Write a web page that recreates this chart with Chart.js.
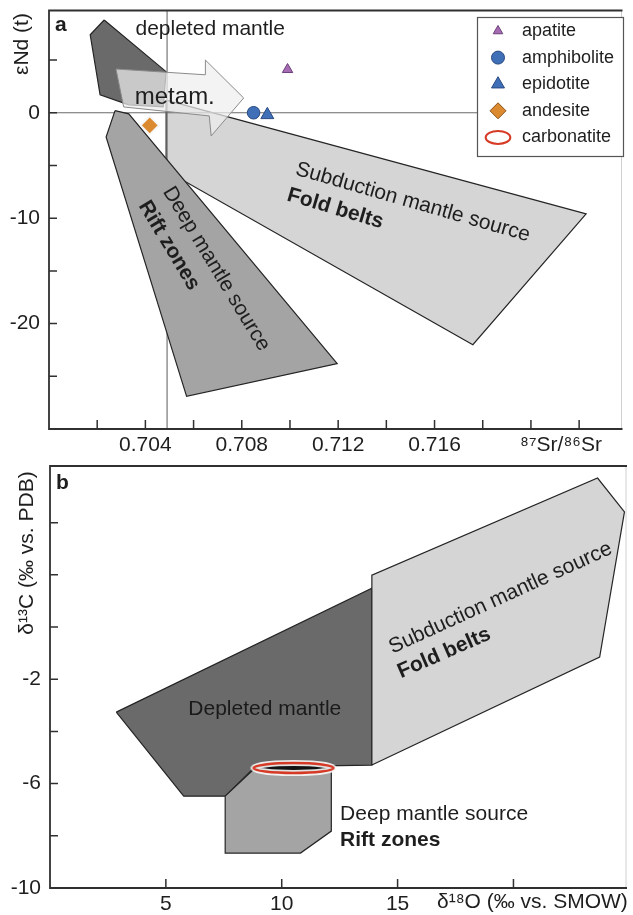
<!DOCTYPE html>
<html>
<head>
<meta charset="utf-8">
<script src="https://cdn.jsdelivr.net/npm/chart.js@4.4.0/dist/chart.umd.min.js"></script>
<style>
html, body { margin: 0; padding: 0; background: #fff; }
#wrap { position: relative; width: 633px; height: 915px; overflow: hidden; }
#chartA { position: absolute; left: 0; top: 0; }
#chartB { position: absolute; left: 0; top: 458px; }
</style>
</head>
<body>
<div id="wrap">
  <canvas id="chartA" width="633" height="458"></canvas>
  <canvas id="chartB" width="633" height="457"></canvas>
</div>
<script>
const FONT = '"Liberation Sans", Arial, Helvetica, sans-serif';

// ---------- panel a : eNd(t) vs 87Sr/86Sr ----------
const aXTicks = [0.702, 0.704, 0.706, 0.708, 0.710, 0.712, 0.714, 0.716, 0.718, 0.720, 0.722];
const aXLabels = [0.704, 0.708, 0.712, 0.716];
const aYTicks = [5, 0, -5, -10, -15, -20, -25];
const aYLabels = [0, -10, -20];

// field outlines (x = 87Sr/86Sr, y = eNd)
const aDepletedX = [0.70229, 0.70171, 0.70212, 0.70331, 0.70474, 0.70486];
const aDepletedY = [8.8, 7.4, 1.7, 0.75, 0.55, 3.9];
const aDeepX = [0.70274, 0.70331, 0.71196, 0.70571, 0.70237];
const aDeepY = [0.2, -0.1, -23.8, -26.9, -2.3];
const aSubductionX = [0.70486, 0.72229, 0.71759, 0.70486];
const aSubductionY = [1.2, -9.6, -22.0, -5.5];
const aArrowX = [0.70278, 0.70649, 0.70649, 0.70808, 0.70673, 0.70665, 0.70310];
const aArrowY = [4.15, 3.6, 5.0, 1.4, -2.2, -0.3, 0.55];

// reference lines (bulk earth)
const bulkSr = 0.7049;
const bulkNd = 0;

// samples
const apatiteX = [0.7099];   const apatiteY = [4.1];
const amphiboliteX = [0.70849]; const amphiboliteY = [0];
const epidotiteX = [0.70906];   const epidotiteY = [-0.2];
const andesiteX = [0.70418];    const andesiteY = [-1.2];

const legendNames = ['apatite', 'amphibolite', 'epidotite', 'andesite', 'carbonatite'];

// ---------- panel b : d13C vs d18O ----------
const bXTicks = [5, 10, 15, 20];
const bXLabels = [5, 10, 15];
const bYTicks = [4, 2, 0, -2, -4, -6, -8];
const bYLabels = [-2, -6, -10];

const bDepletedX = [2.86, 13.89, 13.89, 8.85, 7.56, 5.77];
const bDepletedY = [-3.26, 1.49, -5.29, -5.36, -6.48, -6.48];
const bSubductionX = [13.89, 13.89, 23.63, 24.79, 23.72];
const bSubductionY = [-5.29, 1.99, 5.71, 4.41, -1.15];
const bDeepX = [7.56, 8.85, 12.14, 12.14, 10.81, 7.56];
const bDeepY = [-6.48, -5.40, -5.40, -7.82, -8.66, -8.66];
const carbonatiteX = [10.51];
const carbonatiteY = [-5.40];

const COL = {
    dark: '#6a6a6a',
    mid: '#a4a4a4',
    light: '#d5d5d5',
    edge: '#252525',
    purple: '#a56bb3',
    blue: '#3f6fb6',
    orange: '#dc8a30',
    red: '#d63a25'
};

function pts(xs, ys) {
    return xs.map((x, i) => ({ x: x, y: ys[i] }));
}
function closed(xs, ys) {
    const p = pts(xs, ys);
    p.push(p[0]);
    return p;
}

function field(data, fill, order, extra) {
    return Object.assign({
        type: 'line',
        data: data,
        backgroundColor: fill,
        borderColor: COL.edge,
        borderWidth: 1.2,
        pointRadius: 0,
        tension: 0,
        fill: 'shape',
        order: order
    }, extra || {});
}

// carbonatite mark as a point style image
function ellipseMark(w, h) {
    const c = document.createElement('canvas');
    c.width = w + 10;
    c.height = h + 10;
    const g = c.getContext('2d');
    g.beginPath();
    g.ellipse(c.width / 2, c.height / 2, w / 2, h / 2, 0, 0, Math.PI * 2);
    g.fillStyle = '#111';
    g.fill();
    g.lineWidth = 6;
    g.strokeStyle = 'rgba(250,250,250,0.9)';
    g.stroke();
    g.lineWidth = 2.4;
    g.strokeStyle = COL.red;
    g.stroke();
    return c;
}

function note(ctx, t, px, py, o) {
    ctx.save();
    ctx.translate(px, py);
    ctx.rotate((o.angle || 0) * Math.PI / 180);
    ctx.font = (o.bold ? 'bold ' : '') + (o.size || 21) + 'px ' + FONT;
    ctx.fillStyle = o.color || '#1e1e1e';
    ctx.textAlign = o.align || 'center';
    ctx.textBaseline = 'middle';
    ctx.fillText(t, 0, 0);
    ctx.restore();
}

function legendMark(ctx, kind, x, y, r, fill, stroke) {
    ctx.save();
    ctx.fillStyle = fill;
    ctx.strokeStyle = stroke;
    ctx.lineWidth = 1;
    ctx.beginPath();
    if (kind === 'triangle') {
        ctx.moveTo(x, y - r);
        ctx.lineTo(x + r * 0.866, y + r * 0.5);
        ctx.lineTo(x - r * 0.866, y + r * 0.5);
        ctx.closePath();
    } else if (kind === 'circle') {
        ctx.arc(x, y, r, 0, Math.PI * 2);
    } else if (kind === 'diamond') {
        ctx.moveTo(x, y - r);
        ctx.lineTo(x + r, y);
        ctx.lineTo(x, y + r);
        ctx.lineTo(x - r, y);
        ctx.closePath();
    } else if (kind === 'ellipse') {
        ctx.ellipse(x, y, r * 1.9, r, 0, 0, Math.PI * 2);
        ctx.lineWidth = 2;
        ctx.stroke();
        ctx.restore();
        return;
    }
    ctx.fill();
    ctx.stroke();
    ctx.restore();
}

// frame, inward ticks, labels and annotations
function decor(spec) {
    return {
        id: 'decor' + spec.name,
        afterDraw(chart) {
            const ctx = chart.ctx;
            const a = chart.chartArea;
            const xs = chart.scales.x;
            const ys = chart.scales.y;
            ctx.save();

            // faint right border
            ctx.strokeStyle = '#d0d0d0';
            ctx.lineWidth = 1;
            ctx.beginPath();
            ctx.moveTo(a.right - 1, a.top);
            ctx.lineTo(a.right - 1, a.bottom);
            ctx.stroke();

            ctx.strokeStyle = '#303030';
            ctx.lineWidth = 1.8;
            ctx.beginPath();
            ctx.moveTo(a.right, a.top);
            ctx.lineTo(a.left, a.top);
            ctx.lineTo(a.left, a.bottom);
            ctx.lineTo(a.right, a.bottom);
            ctx.stroke();

            ctx.lineWidth = 1.5;
            ctx.beginPath();
            spec.xTicks.forEach(v => {
                const p = xs.getPixelForValue(v);
                ctx.moveTo(p, a.bottom);
                ctx.lineTo(p, a.bottom - 9);
            });
            spec.yTicks.forEach(v => {
                const p = ys.getPixelForValue(v);
                ctx.moveTo(a.left, p);
                ctx.lineTo(a.left + 8, p);
            });
            ctx.stroke();

            spec.xLabels.forEach(v => {
                note(ctx, spec.xFormat(v), xs.getPixelForValue(v), a.bottom + 16, {});
            });
            spec.yLabels.forEach(v => {
                note(ctx, String(v), a.left - 9, ys.getPixelForValue(v), { align: 'right' });
            });

            spec.notes.forEach(n => {
                const px = n.px !== undefined ? n.px : xs.getPixelForValue(n.x);
                const py = n.py !== undefined ? n.py : ys.getPixelForValue(n.y);
                note(ctx, n.text, px, py, n);
            });

            if (spec.legend) spec.legend(ctx);
            ctx.restore();
        }
    };
}

function drawLegendA(ctx) {
    const kinds = [
        ['triangle', 5.5, COL.purple, '#6b3f78'],
        ['circle', 6.5, COL.blue, '#2a4b82'],
        ['triangle', 7.5, COL.blue, '#2a4b82'],
        ['diamond', 8, COL.orange, '#8a5318'],
        ['ellipse', 6.5, 'rgba(0,0,0,0)', COL.red]
    ];
    ctx.save();
    ctx.fillStyle = '#fff';
    ctx.fillRect(477, 17, 146, 139);
    ctx.strokeStyle = '#555';
    ctx.lineWidth = 1.2;
    ctx.strokeRect(477.5, 17.5, 146, 139);
    legendNames.forEach((name, i) => {
        const y = 31 + i * 26.6;
        const k = kinds[i];
        legendMark(ctx, k[0], 498, y, k[1], k[2], k[3]);
        note(ctx, name, 522, y, { align: 'left', size: 18 });
    });
    ctx.restore();
}

const chartA = new Chart(document.getElementById('chartA'), {
    type: 'scatter',
    data: {
        datasets: [
            { label: 'apatite', data: pts(apatiteX, apatiteY), pointStyle: 'triangle', pointRadius: 6,
              backgroundColor: COL.purple, borderColor: '#6b3f78', borderWidth: 1, order: 0 },
            { label: 'amphibolite', data: pts(amphiboliteX, amphiboliteY), pointStyle: 'circle', pointRadius: 6.3,
              backgroundColor: COL.blue, borderColor: '#2a4b82', borderWidth: 1, order: 0 },
            { label: 'epidotite', data: pts(epidotiteX, epidotiteY), pointStyle: 'triangle', pointRadius: 7.5,
              backgroundColor: COL.blue, borderColor: '#2a4b82', borderWidth: 1, order: 0 },
            { label: 'andesite', data: pts(andesiteX, andesiteY), pointStyle: 'rectRot', pointRadius: 9,
              backgroundColor: COL.orange, borderColor: '#f4f4f4', borderWidth: 1.5, order: 0 },
            field(closed(aArrowX, aArrowY), 'rgba(238,238,238,0.72)', 1, { borderColor: '#8a8a8a', borderWidth: 1 }),
            field(closed(aDeepX, aDeepY), COL.mid, 2),
            field([{ x: bulkSr, y: -30 }, { x: bulkSr, y: 9.7 }], 'rgba(0,0,0,0)', 3,
                  { fill: false, borderColor: '#6a6a6a', borderWidth: 1.1 }),
            field([{ x: 0.700, y: bulkNd }, { x: 0.7238, y: bulkNd }], 'rgba(0,0,0,0)', 3,
                  { fill: false, borderColor: '#6a6a6a', borderWidth: 1.1 }),
            field(closed(aDepletedX, aDepletedY), COL.dark, 4),
            field(closed(aSubductionX, aSubductionY), COL.light, 5)
        ]
    },
    options: {
        responsive: false,
        animation: false,
        devicePixelRatio: 1,
        events: [],
        layout: { padding: { left: 49, top: 8, right: 0, bottom: 29 } },
        scales: {
            x: { type: 'linear', min: 0.700, max: 0.7238, display: false },
            y: { type: 'linear', min: -30, max: 9.7, display: false }
        },
        plugins: { legend: { display: false }, tooltip: { enabled: false } }
    },
    plugins: [decor({
        name: 'A',
        xTicks: aXTicks, xLabels: aXLabels, yTicks: aYTicks, yLabels: aYLabels,
        xFormat: v => v.toFixed(3),
        legend: drawLegendA,
        notes: [
            { text: 'a', px: 55, py: 25, bold: true, align: 'left' },
            { text: 'εNd (t)', px: 22, py: 44, angle: -90 },
            { text: '⁸⁷Sr/⁸⁶Sr', px: 561, py: 445 },
            { text: 'depleted mantle', x: 0.70669, y: 7.9 },
            { text: 'metam.', x: 0.70522, y: 1.5, size: 24 },
            { text: 'Subduction mantle source', x: 0.71510, y: -8.5, angle: 16 },
            { text: 'Fold belts', x: 0.71188, y: -9.1, angle: 16.5, bold: true },
            { text: 'Deep mantle source', x: 0.70694, y: -14.8, angle: 58.8 },
            { text: 'Rift zones', x: 0.70498, y: -12.6, angle: 59, bold: true }
        ]
    })]
});

const chartB = new Chart(document.getElementById('chartB'), {
    type: 'scatter',
    data: {
        datasets: [
            { label: 'carbonatite', data: pts(carbonatiteX, carbonatiteY), pointStyle: ellipseMark(80, 10),
              pointRadius: 5, order: 0 },
            field(closed(bDeepX, bDeepY), COL.mid, 1),
            field(closed(bSubductionX, bSubductionY), COL.light, 2),
            field(closed(bDepletedX, bDepletedY), COL.dark, 3)
        ]
    },
    options: {
        responsive: false,
        animation: false,
        devicePixelRatio: 1,
        events: [],
        layout: { padding: { left: 50, top: 8, right: 0, bottom: 27 } },
        scales: {
            x: { type: 'linear', min: 0, max: 24.9, display: false },
            y: { type: 'linear', min: -10, max: 6.17, display: false }
        },
        plugins: { legend: { display: false }, tooltip: { enabled: false } }
    },
    plugins: [decor({
        name: 'B',
        xTicks: bXTicks, xLabels: bXLabels, yTicks: bYTicks, yLabels: bYLabels,
        xFormat: v => String(v),
        notes: [
            { text: 'b', px: 56, py: 25, bold: true, align: 'left' },
            { text: 'δ¹³C (‰ vs. PDB)', px: 27, py: 95, angle: -90 },
            { text: 'δ¹⁸O (‰ vs. SMOW)', px: 437, py: 444, align: 'left' },
            { text: 'Depleted mantle', x: 9.27, y: -3.14, color: '#1a1a1a' },
            { text: 'Subduction mantle source', x: 19.44, y: 1.11, angle: -24.5 },
            { text: 'Fold belts', x: 17.01, y: -1.0, angle: -23.5, bold: true },
            { text: 'Deep mantle source', x: 12.52, y: -7.16, align: 'left' },
            { text: 'Rift zones', x: 12.52, y: -8.16, align: 'left', bold: true }
        ]
    })]
});
</script>
</body>
</html>
